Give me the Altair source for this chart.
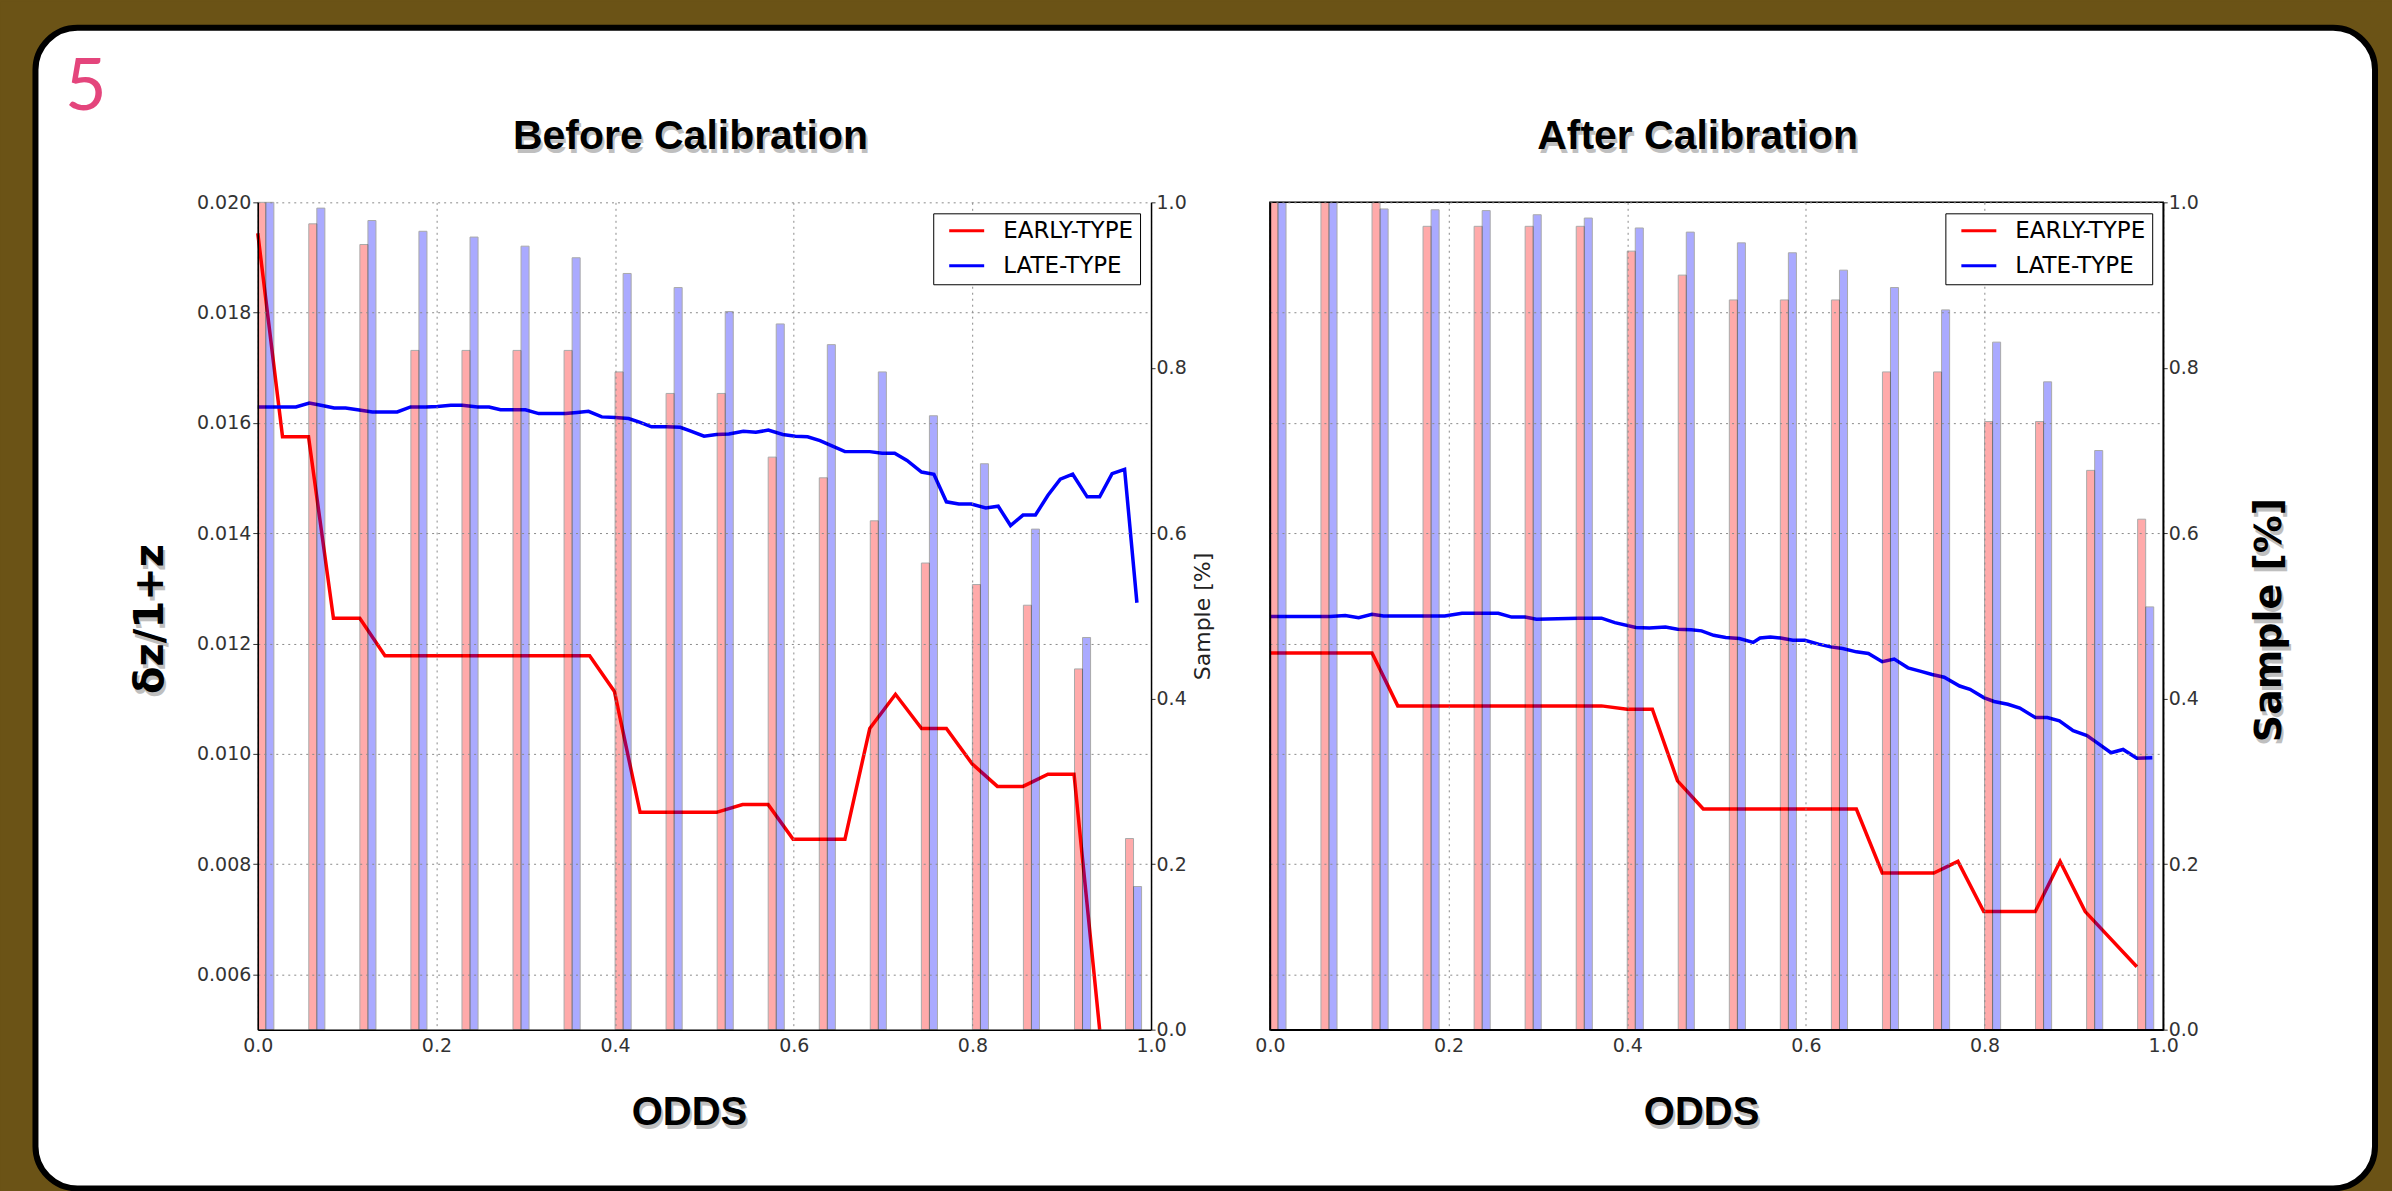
import altair as alt
import pandas as pd

# ---------------- data ----------------
# left edge (ODDS) of each histogram bar pair
bin_odds = [0.0, 0.0571, 0.1143, 0.1714, 0.2286, 0.2857, 0.3429, 0.4, 0.4571,
            0.5143, 0.5714, 0.6286, 0.6857, 0.7429, 0.8, 0.8571, 0.9143, 0.9714]

# sample fraction (right axis) - before calibration
before_early_frac = [1.0, 0.974, 0.949, 0.821, 0.821, 0.821, 0.821, 0.795, 0.769,
                     0.769, 0.692, 0.667, 0.615, 0.564, 0.538, 0.513, 0.436, 0.231]
before_late_frac = [1.0, 0.993, 0.978, 0.965, 0.958, 0.947, 0.933, 0.914, 0.897,
                    0.868, 0.853, 0.828, 0.795, 0.742, 0.684, 0.605, 0.474, 0.173]
# sample fraction (right axis) - after calibration
after_early_frac = [1.0, 1.0, 1.0, 0.971, 0.971, 0.971, 0.971, 0.941, 0.912,
                    0.882, 0.882, 0.882, 0.795, 0.795, 0.735, 0.735, 0.676, 0.617]
after_late_frac = [1.0, 1.0, 0.992, 0.991, 0.990, 0.985, 0.981, 0.969, 0.964,
                   0.951, 0.939, 0.918, 0.897, 0.870, 0.831, 0.783, 0.700, 0.511]

# dz/1+z curves - before calibration
before_early_odds = [0.0, 0.0277, 0.0568, 0.0847, 0.1142, 0.1424, 0.3715, 0.3993, 0.428,
                     0.5136, 0.5427, 0.5714, 0.5993, 0.6573, 0.6851, 0.7139, 0.7431,
                     0.7709, 0.7997, 0.828, 0.8567, 0.8846, 0.9138, 0.9425]
before_early_dz = [0.01944, 0.01575, 0.01575, 0.01246, 0.01246, 0.01178, 0.01178, 0.01113,
                   0.00894, 0.00894, 0.00908, 0.00908, 0.00845, 0.00845, 0.01046, 0.01108,
                   0.01046, 0.01046, 0.00982, 0.00941, 0.00941, 0.00963, 0.00963, 0.00500]
before_late_odds = [0.0, 0.0427, 0.0577, 0.0706, 0.0855, 0.0983, 0.1154, 0.1283, 0.1561,
                    0.1711, 0.1883, 0.2011, 0.2161, 0.2290, 0.2461, 0.2589, 0.2717, 0.2996,
                    0.3145, 0.3445, 0.3574, 0.3702, 0.3851, 0.4001, 0.4151, 0.4280, 0.4408,
                    0.4579, 0.4729, 0.4833, 0.4996, 0.5135, 0.5274, 0.5436, 0.5576, 0.5715,
                    0.5877, 0.6017, 0.6155, 0.6294, 0.6434, 0.6573, 0.6711, 0.6851, 0.6990,
                    0.7130, 0.7268, 0.7431, 0.7569, 0.7709, 0.7848, 0.7988, 0.8150, 0.8289,
                    0.8427, 0.8567, 0.8706, 0.8846, 0.8984, 0.9123, 0.9285, 0.9425, 0.9564,
                    0.9704, 0.9842]
before_late_dz = [0.01629, 0.01629, 0.01636, 0.01632, 0.01627, 0.01627, 0.01623, 0.01620,
                  0.01620, 0.01629, 0.01629, 0.01630, 0.01632, 0.01632, 0.01629, 0.01629,
                  0.01624, 0.01624, 0.01617, 0.01617, 0.01619, 0.01621, 0.01611, 0.01610,
                  0.01608, 0.01601, 0.01593, 0.01593, 0.01592, 0.01586, 0.01576, 0.01579,
                  0.01580, 0.01585, 0.01583, 0.01587, 0.01579, 0.01576, 0.01575, 0.01568,
                  0.01558, 0.01548, 0.01548, 0.01548, 0.01545, 0.01545, 0.01532, 0.01511,
                  0.01507, 0.01457, 0.01453, 0.01453, 0.01446, 0.01449, 0.01414, 0.01433,
                  0.01433, 0.01469, 0.01498, 0.01507, 0.01466, 0.01466, 0.01508, 0.01516,
                  0.01274]

# dz/1+z curves - after calibration
after_early_odds = [0.0, 0.1143, 0.1431, 0.3711, 0.3999, 0.4281, 0.4563, 0.4851, 0.6565,
                    0.6855, 0.7432, 0.7702, 0.7991, 0.8568, 0.8846, 0.9127, 0.9705]
after_early_dz = [0.01183, 0.01183, 0.01087, 0.01087, 0.01081, 0.01081, 0.00951, 0.00900,
                  0.00900, 0.00784, 0.00784, 0.00805, 0.00714, 0.00714, 0.00805, 0.00714,
                  0.00614]
after_late_odds = [0.0, 0.0672, 0.0843, 0.0993, 0.1143, 0.1272, 0.1700, 0.1957, 0.2150,
                   0.2556, 0.2706, 0.2856, 0.2984, 0.3455, 0.3712, 0.3861, 0.4097, 0.4247,
                   0.4428, 0.4563, 0.4717, 0.4832, 0.4967, 0.5102, 0.5256, 0.5410, 0.5487,
                   0.5603, 0.5718, 0.5853, 0.5988, 0.6142, 0.6277, 0.6411, 0.6565, 0.6700,
                   0.6854, 0.6989, 0.7143, 0.7278, 0.7413, 0.7548, 0.7721, 0.7837, 0.7991,
                   0.8106, 0.8261, 0.8395, 0.8568, 0.8703, 0.8838, 0.8992, 0.9147, 0.9262,
                   0.9416, 0.9551, 0.9705, 0.9878]
after_late_dz = [0.01249, 0.01249, 0.01251, 0.01247, 0.01253, 0.01250, 0.01250, 0.01250,
                 0.01255, 0.01255, 0.01248, 0.01248, 0.01244, 0.01246, 0.01246, 0.01238,
                 0.01229, 0.01228, 0.01230, 0.01226, 0.01225, 0.01223, 0.01215, 0.01211,
                 0.01209, 0.01202, 0.01210, 0.01212, 0.01210, 0.01206, 0.01206, 0.01199,
                 0.01194, 0.01191, 0.01185, 0.01182, 0.01167, 0.01172, 0.01156, 0.01150,
                 0.01144, 0.01139, 0.01123, 0.01117, 0.01102, 0.01095, 0.01090, 0.01083,
                 0.01066, 0.01066, 0.01060, 0.01042, 0.01033, 0.01020, 0.01002, 0.01008,
                 0.00992, 0.00993]

series_names = ["EARLY-TYPE", "LATE-TYPE"]
odds_ticks = [0.0, 0.2, 0.4, 0.6, 0.8, 1.0]
dz_ticks = [0.006, 0.008, 0.010, 0.012, 0.014, 0.016, 0.018, 0.020]
frac_ticks = [0.0, 0.2, 0.4, 0.6, 0.8, 1.0]

# ---------------- styling ----------------
W, H = 894, 828
FONT = "DejaVu Sans"
LBL = "#333333"
GRID = "#8a8a8a"
GOLD = "#6b5316"
one = pd.DataFrame({"k": [0]})


def label(text, x, y, size, angle=0, color="black", font="Liberation Sans",
          weight="bold", align="center", baseline="alphabetic", opacity=1.0):
    return alt.Chart(one).mark_text(
        text=text, font=font, fontSize=size, fontWeight=weight, color=color,
        angle=angle, align=align, baseline=baseline, opacity=opacity,
    ).encode(x=alt.value(x), y=alt.value(y))


def shadowed(text, x, y, size, **kw):
    sh = label(text, x + 2, y + 4, size, color="#b0b0b0", opacity=0.8, **kw)
    fg = label(text, x, y, size, **kw)
    return [sh, fg]


def make_panel(early_frac, late_frac, e_odds, e_dz, l_odds, l_dz, left_labels, right_title):
    n = len(bin_odds)
    bars = pd.DataFrame({
        "odds": bin_odds + bin_odds,
        "frac": early_frac + late_frac,
        "kind": [series_names[0]] * n + [series_names[1]] * n,
    })
    lines = pd.DataFrame({
        "odds": e_odds + l_odds,
        "dz": e_dz + l_dz,
        "series": [series_names[0]] * len(e_odds) + [series_names[1]] * len(l_odds),
    })
    x_scale = alt.Scale(domain=[0, 1], nice=False, zero=False)
    x_axis = alt.Axis(values=odds_ticks, format=".1f", title=None, grid=True,
                      gridColor=GRID, gridDash=[2, 4], gridWidth=1, ticks=False,
                      labelPadding=7, labelFlush=False, labelFont=FONT, labelFontSize=19,
                      labelColor=LBL, domainColor="black", domainWidth=1.5, zindex=1)
    left_axis = alt.Axis(orient="left", values=dz_ticks, format=".3f", title=None,
                         grid=True, gridColor=GRID, gridDash=[2, 4], gridWidth=1,
                         labels=left_labels, ticks=left_labels, tickSize=5, tickColor=LBL,
                         labelPadding=2, labelFlush=False, labelFont=FONT, labelFontSize=19,
                         labelColor=LBL, domainColor="black", domainWidth=1.5, zindex=1)
    right_kw = dict(orient="right", values=frac_ticks, format=".1f", grid=False,
                    tickSize=4, tickColor=LBL, labelPadding=1, labelFlush=False,
                    labelFont=FONT, labelFontSize=19, labelColor=LBL,
                    domainColor="black", domainWidth=1.5, zindex=1)
    if right_title:
        right_axis = alt.Axis(title=right_title, titleAngle=270, titleFont=FONT,
                              titleFontSize=22, titleFontWeight="normal", titleColor="#222222",
                              titleX=52, titleY=H / 2, titleAlign="center",
                              titleBaseline="middle", **right_kw)
    else:
        right_axis = alt.Axis(title=None, **right_kw)

    legend = alt.Legend(title=None, orient="top-right", offset=11,
                        symbolType="M-1.75,0L1.75,0", symbolSize=400, symbolStrokeWidth=3,
                        labelFont=FONT, labelFontSize=23, labelColor="black",
                        strokeColor="black", fillColor="white", padding=6,
                        rowPadding=11, symbolOffset=16, labelOffset=25, labelLimit=400,
                        cornerRadius=0, zindex=2)

    line_layer = alt.Chart(lines).mark_line(strokeWidth=3.5).encode(
        x=alt.X("odds:Q", scale=x_scale, axis=x_axis),
        y=alt.Y("dz:Q", scale=alt.Scale(domain=[0.005, 0.020], nice=False, zero=False),
                axis=left_axis),
        color=alt.Color("series:N", scale=alt.Scale(domain=series_names,
                                                    range=["#ff0000", "#0000ff"]),
                        legend=legend),
    )
    bar_layer = alt.Chart(bars).transform_calculate(
        x0="datum.odds + (datum.kind == 'LATE-TYPE' ? 0.009 : 0)",
        x1="datum.odds + (datum.kind == 'LATE-TYPE' ? 0.018 : 0.009)",
    ).mark_bar(opacity=0.33, stroke="black", strokeWidth=1).encode(
        x=alt.X("x0:Q", scale=x_scale, axis=x_axis),
        x2="x1:Q",
        y=alt.Y("frac:Q", scale=alt.Scale(domain=[0, 1], nice=False), axis=right_axis,
                stack=None),
        y2=alt.datum(0),
        fill=alt.Fill("kind:N", scale=alt.Scale(domain=series_names,
                                                range=["#ff0000", "#0000ff"]),
                      legend=None),
    )
    return line_layer, bar_layer


# ---------------- left panel ----------------
l_line, l_bar = make_panel(before_early_frac, before_late_frac, before_early_odds,
                           before_early_dz, before_late_odds, before_late_dz, True,
                           "Sample [%]")
gold_bg = alt.Chart(one).mark_rect(fill=GOLD).encode(
    x=alt.value(-257), x2=alt.value(2392 - 257), y=alt.value(-201), y2=alt.value(1191 - 201))
frame = alt.Chart(one).mark_rect(fill="white", stroke="black", strokeWidth=6,
                                 cornerRadius=42).encode(
    x=alt.value(-222.5), x2=alt.value(2119), y=alt.value(-174.7), y2=alt.value(987))
slide_no = label("5", -193, -92, 72, color="#E4457C", font="Lato", weight="normal",
                 align="left")

left_layers = [gold_bg, frame, l_line, l_bar, slide_no]
left_layers += shadowed("Before Calibration", 433, -53, 41)
left_layers += shadowed("ODDS", 432, 923, 40)
left_layers += shadowed("δz/1+z", -107, 417, 40, angle=270, font="DejaVu Sans",
                        baseline="middle")
left = alt.layer(*left_layers).resolve_scale(y="independent").properties(width=W, height=H)

# ---------------- right panel ----------------
r_line, r_bar = make_panel(after_early_frac, after_late_frac, after_early_odds,
                           after_early_dz, after_late_odds, after_late_dz, False, None)
right_layers = [r_line, r_bar]
right_layers += shadowed("After Calibration", 428, -53, 41)
right_layers += shadowed("ODDS", 432, 923, 40)
right_layers += shadowed("Sample [%]", 1001, 418, 38, angle=270, font="DejaVu Sans",
                         baseline="middle")
right = alt.layer(*right_layers).resolve_scale(y="independent").properties(width=W, height=H)

chart = alt.hconcat(
    left, right, spacing=119, bounds="flush", padding=0,
    autosize=alt.AutoSizeParams(type="pad"),
).resolve_scale(color="independent", fill="independent").configure(
    background=GOLD, font=FONT,
).configure_view(stroke="black", strokeWidth=1.5)

chart.save("out.html", embed_options={"renderer": "svg", "actions": False})
